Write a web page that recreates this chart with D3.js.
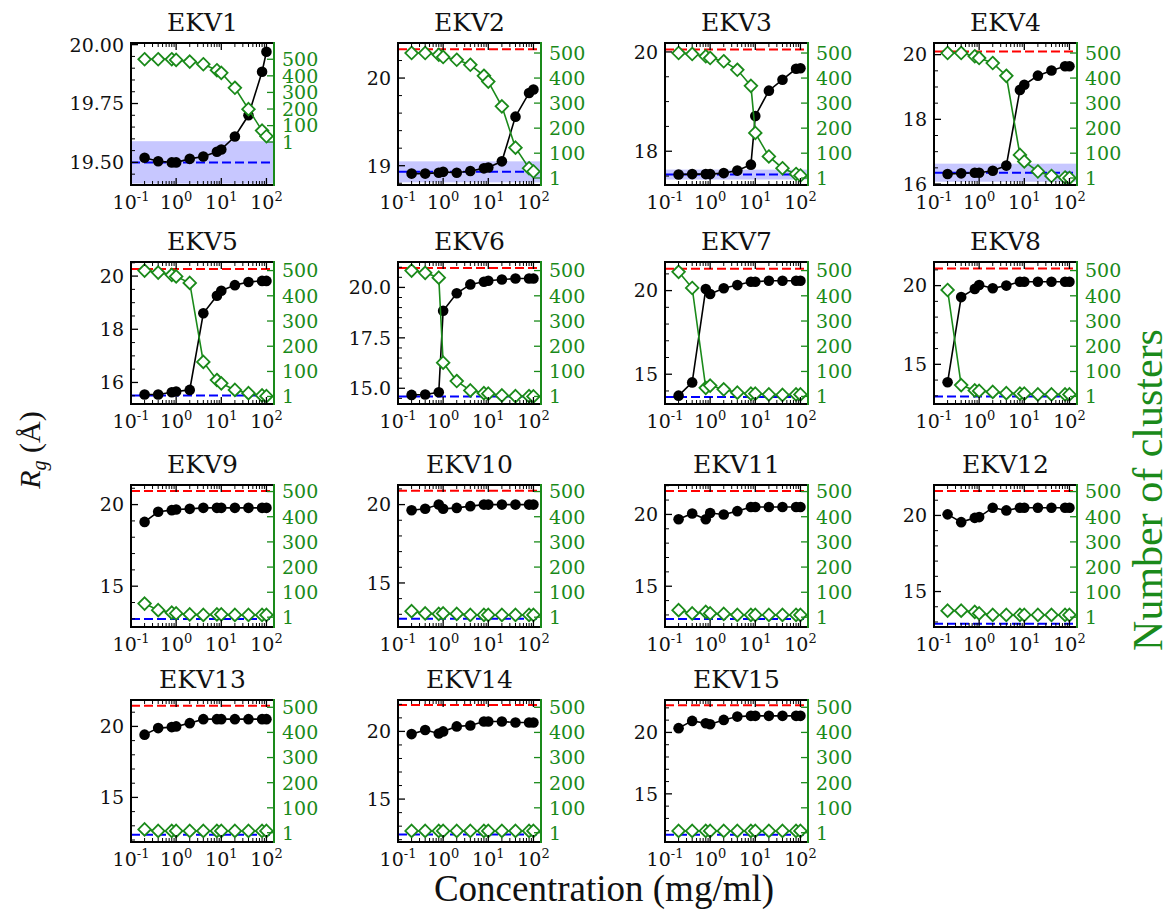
<!DOCTYPE html>
<html>
<head>
<meta charset="utf-8">
<script src="https://cdn.jsdelivr.net/npm/d3@7"></script>
<style>
  body { margin: 0; background: #fff; }
  text { font-family: "DejaVu Serif", serif; }
</style>
</head>
<body>
<svg id="fig" width="1173" height="911"></svg>
<script>
// Protein concentrations (mg/ml) sampled in every panel
const concentrations = [0.2, 0.4, 0.8, 1, 2, 4, 8, 10, 20, 40, 80, 100];

const proteinNames = ["EKV1", "EKV2", "EKV3", "EKV4", "EKV5", "EKV6", "EKV7", "EKV8",
                      "EKV9", "EKV10", "EKV11", "EKV12", "EKV13", "EKV14", "EKV15"];

// Radius of gyration (Å) per concentration
const rgValues = [
  [19.52, 19.505, 19.50, 19.50, 19.515, 19.525, 19.545, 19.555, 19.61, 19.70, 19.885, 19.97],
  [18.91, 18.91, 18.92, 18.93, 18.92, 18.94, 18.97, 18.98, 19.05, 19.56, 19.83, 19.87],
  [17.53, 17.54, 17.54, 17.54, 17.56, 17.61, 17.73, 18.71, 19.22, 19.44, 19.66, 19.67],
  [16.31, 16.33, 16.35, 16.35, 16.41, 16.57, 18.91, 19.07, 19.35, 19.51, 19.64, 19.64],
  [15.55, 15.55, 15.63, 15.66, 15.72, 18.60, 19.26, 19.45, 19.66, 19.78, 19.82, 19.82],
  [14.67, 14.69, 14.80, 18.84, 19.71, 20.15, 20.28, 20.33, 20.39, 20.44, 20.44, 20.44],
  [13.72, 14.51, 20.10, 19.80, 20.14, 20.33, 20.53, 20.53, 20.59, 20.59, 20.59, 20.59],
  [13.86, 19.27, 19.79, 20.04, 19.83, 20.00, 20.25, 20.25, 20.25, 20.25, 20.25, 20.25],
  [18.94, 19.56, 19.66, 19.70, 19.74, 19.80, 19.80, 19.80, 19.80, 19.80, 19.80, 19.80],
  [19.64, 19.73, 20.00, 19.73, 19.79, 19.90, 20.00, 20.00, 20.00, 20.00, 20.00, 20.00],
  [19.66, 20.07, 19.66, 20.10, 20.00, 20.23, 20.52, 20.52, 20.52, 20.52, 20.52, 20.52],
  [20.07, 19.56, 19.84, 19.89, 20.51, 20.33, 20.51, 20.51, 20.51, 20.51, 20.51, 20.51],
  [19.42, 19.88, 19.95, 20.00, 20.23, 20.51, 20.51, 20.51, 20.51, 20.51, 20.51, 20.51],
  [19.80, 20.10, 19.85, 20.00, 20.37, 20.44, 20.73, 20.73, 20.73, 20.66, 20.66, 20.66],
  [20.35, 20.94, 20.75, 20.67, 21.02, 21.29, 21.35, 21.35, 21.35, 21.35, 21.35, 21.35]
];

// Number of clusters per concentration
const clusterCounts = [
  [500, 500, 500, 496, 486, 470, 434, 418, 328, 199, 70, 36],
  [500, 500, 493, 484, 473, 453, 409, 386, 287, 122, 40, 27],
  [500, 496, 487, 480, 467, 433, 369, 181, 87, 40, 17, 11],
  [500, 500, 487, 480, 460, 409, 93, 67, 27, 9, 3, 1],
  [500, 492, 483, 477, 451, 138, 66, 53, 27, 14, 5, 2],
  [500, 491, 472, 135, 62, 25, 14, 12, 5, 2, 2, 1],
  [495, 431, 35, 44, 29, 16, 12, 12, 9, 7, 9, 9],
  [423, 46, 25, 23, 19, 14, 12, 12, 9, 9, 9, 9],
  [55, 29, 19, 16, 12, 10, 12, 12, 10, 10, 10, 10],
  [25, 16, 14, 16, 14, 10, 10, 10, 10, 10, 10, 10],
  [29, 16, 22, 16, 14, 10, 10, 10, 10, 10, 10, 10],
  [27, 27, 22, 16, 10, 10, 10, 10, 10, 10, 10, 10],
  [14, 8, 8, 8, 8, 8, 8, 8, 8, 8, 8, 8],
  [8, 8, 8, 8, 8, 8, 8, 8, 8, 8, 8, 8],
  [8, 8, 8, 8, 8, 8, 8, 8, 8, 8, 8, 8]
];

// Reference Rg levels (red upper dashed, blue lower dashed) and the band around the lower one
const rgUpperRef = [20.35, 20.33, 20.05, 20.10, 20.27, 20.96, 21.31, 21.09, 20.84, 20.88, 21.64, 21.60, 21.46, 21.95, 22.21];
const rgLowerRef = [19.50, 18.93, 17.53, 16.35, 15.51, 14.59, 13.64, 12.96, 12.99, 12.71, 12.72, 12.89, 12.37, 12.39, 11.67];
const rgLowerBand = [0.09, 0.12, 0.10, 0.28, 0, 0, 0, 0, 0, 0, 0, 0, 0, 0, 0];

// Axis ranges
const rgLimits = [
  [19.404, 20.007], [18.78, 20.40], [17.32, 20.18], [15.97, 20.36],
  [15.19, 20.53], [14.22, 21.26], [13.22, 21.71], [12.48, 21.50],
  [12.50, 21.20], [12.19, 21.25], [12.16, 22.05], [12.67, 22.00],
  [11.86, 21.86], [11.83, 22.32], [11.08, 22.64]
];
const clusterLimits = [
  [-258, 598], [-27, 540], [-27, 540], [-27, 540],
  [-29, 534], [-29, 534], [-29, 534], [-29, 534],
  [-38, 526], [-38, 526], [-38, 526], [-38, 526],
  [-36, 529], [-36, 529], [-36, 529]
];
const concLimits = [0.1, 147];

// Tick labels
const rgTicks = [
  [19.50, 19.75, 20.00], [19, 20], [18, 20], [16, 18, 20], [16, 18, 20],
  [15.0, 17.5, 20.0], [15, 20], [15, 20], [15, 20], [15, 20],
  [15, 20], [15, 20], [15, 20], [15, 20], [15, 20]
];
const rgTickDecimals = [2, 0, 0, 0, 0, 1, 0, 0, 0, 0, 0, 0, 0, 0, 0];
const clusterTicks = [1, 100, 200, 300, 400, 500];
const concTickExponents = [-1, 0, 1, 2];

// ---------------------------------------------------------------------------
const svg = d3.select("#fig");
const GREEN = "#1a8a1a";
const colLeft = [131, 398, 665, 934];
const rowTop = [43, 262, 485, 700];
const PW = 143, PH = 142;
const TICK_FONT = 19;

function minorStep(step) {
  const m = step / Math.pow(10, Math.floor(Math.log10(step) + 1e-9));
  const nd = [1, 2.5, 5, 10].some(v => Math.abs(m - v) < 1e-6) ? 5 : 4;
  return step / nd;
}

proteinNames.forEach((name, i) => {
  const row = Math.floor(i / 4), col = i % 4;
  const g = svg.append("g").attr("transform", `translate(${colLeft[col]},${rowTop[row]})`);

  const x = d3.scaleLog().domain(concLimits).range([0, PW]);
  const yL = d3.scaleLinear().domain(rgLimits[i]).range([PH, 0]);
  const yR = d3.scaleLinear().domain(clusterLimits[i]).range([PH, 0]);

  const clipId = "clip" + i;
  g.append("clipPath").attr("id", clipId)
    .append("rect").attr("width", PW).attr("height", PH);
  const plot = g.append("g").attr("clip-path", `url(#${clipId})`);

  // shaded band around the lower reference
  if (rgLowerBand[i] > 0) {
    const top = yL(rgLowerRef[i] + rgLowerBand[i]);
    const bot = yL(rgLowerRef[i] - rgLowerBand[i]);
    plot.append("rect").attr("x", 0).attr("width", PW)
      .attr("y", top).attr("height", bot - top)
      .attr("fill", "#0000ff").attr("fill-opacity", 0.22);
  }
  // reference lines
  [[rgUpperRef[i], "#ff0000"], [rgLowerRef[i], "#0000ff"]].forEach(([v, c]) => {
    plot.append("line").attr("x1", 0).attr("x2", PW)
      .attr("y1", yL(v)).attr("y2", yL(v))
      .attr("stroke", c).attr("stroke-width", 2)
      .attr("stroke-dasharray", "9,4");
  });

  // Rg series
  const rgLine = d3.line().x((d, j) => x(concentrations[j])).y(d => yL(d));
  plot.append("path").attr("d", rgLine(rgValues[i]))
    .attr("fill", "none").attr("stroke", "#000").attr("stroke-width", 1.6);
  plot.selectAll("circle.rg").data(rgValues[i]).enter().append("circle")
    .attr("class", "rg")
    .attr("cx", (d, j) => x(concentrations[j])).attr("cy", d => yL(d))
    .attr("r", 5.3).attr("fill", "#000");

  // cluster-count series (twin axis, drawn on top)
  const nLine = d3.line().x((d, j) => x(concentrations[j])).y(d => yR(d));
  plot.append("path").attr("d", nLine(clusterCounts[i]))
    .attr("fill", "none").attr("stroke", GREEN).attr("stroke-width", 1.6);
  const r = 6.3;
  plot.selectAll("path.n").data(clusterCounts[i]).enter().append("path")
    .attr("class", "n")
    .attr("transform", (d, j) => `translate(${x(concentrations[j])},${yR(d)})`)
    .attr("d", `M0,${-r}L${r},0L0,${r}L${-r},0Z`)
    .attr("fill", "#fff").attr("stroke", GREEN).attr("stroke-width", 1.8);

  // x ticks (log, inward on bottom and top)
  const majors = concTickExponents.map(e => Math.pow(10, e));
  const minors = [];
  for (let e = -2; e <= 2; e++) for (let k = 2; k <= 9; k++) {
    const v = k * Math.pow(10, e);
    if (v > concLimits[0] && v < concLimits[1]) minors.push(v);
  }
  const tickG = g.append("g");
  majors.forEach(v => {
    const px = x(v);
    if (px < -0.5 || px > PW + 0.5) return;
    tickG.append("line").attr("x1", px).attr("x2", px).attr("y1", PH).attr("y2", PH - 7).attr("stroke", "#000").attr("stroke-width", 1.3);
    tickG.append("line").attr("x1", px).attr("x2", px).attr("y1", 0).attr("y2", 7).attr("stroke", "#000").attr("stroke-width", 1.3);
  });
  minors.forEach(v => {
    const px = x(v);
    tickG.append("line").attr("x1", px).attr("x2", px).attr("y1", PH).attr("y2", PH - 4).attr("stroke", "#000").attr("stroke-width", 1);
    tickG.append("line").attr("x1", px).attr("x2", px).attr("y1", 0).attr("y2", 4).attr("stroke", "#000").attr("stroke-width", 1);
  });
  concTickExponents.forEach(e => {
    const t = g.append("text").attr("x", x(Math.pow(10, e))).attr("y", PH + 24)
      .attr("text-anchor", "middle").attr("font-size", TICK_FONT).attr("fill", "#111");
    t.append("tspan").text("10");
    t.append("tspan").attr("dy", -8).attr("font-size", 13).text(e < 0 ? "-" + (-e) : String(e));
  });

  // left y ticks
  const tk = rgTicks[i];
  const step = tk[1] - tk[0];
  const ms = minorStep(step);
  const [lo, hi] = rgLimits[i];
  for (let v = Math.ceil(lo / ms - 1e-6) * ms; v <= hi + 1e-9; v += ms) {
    const isMajor = tk.some(t => Math.abs(t - v) < 1e-6);
    const py = yL(v);
    tickG.append("line").attr("x1", 0).attr("x2", isMajor ? 7 : 4)
      .attr("y1", py).attr("y2", py).attr("stroke", "#000").attr("stroke-width", isMajor ? 1.3 : 1);
  }
  tk.forEach(v => {
    g.append("text").attr("x", -7).attr("y", yL(v)).attr("dy", "0.36em")
      .attr("text-anchor", "end").attr("font-size", TICK_FONT).attr("fill", "#111")
      .text(v.toFixed(rgTickDecimals[i]));
  });

  // right y ticks (green)
  clusterTicks.forEach(v => {
    const py = yR(v);
    tickG.append("line").attr("x1", PW).attr("x2", PW - 7)
      .attr("y1", py).attr("y2", py).attr("stroke", GREEN).attr("stroke-width", 1.3);
    g.append("text").attr("x", PW + 8).attr("y", py).attr("dy", "0.36em")
      .attr("font-size", TICK_FONT).attr("fill", GREEN).text(v);
  });

  // frame
  g.append("path").attr("d", `M${PW},0H0V${PH}H${PW}`)
    .attr("fill", "none").attr("stroke", "#000").attr("stroke-width", 2);
  g.append("line").attr("x1", PW).attr("x2", PW).attr("y1", -1).attr("y2", PH + 1)
    .attr("stroke", GREEN).attr("stroke-width", 2);

  // panel title
  g.append("text").attr("x", PW / 2).attr("y", -12).attr("text-anchor", "middle")
    .attr("font-size", 25).attr("fill", "#111").text(name);
});

// shared axis labels
const lab = svg.append("g");
lab.append("text").attr("x", 604).attr("y", 901).attr("text-anchor", "middle")
  .attr("font-size", 37).attr("fill", "#111")
  .style("font-family", "'Liberation Serif', serif").text("Concentration (mg/ml)");

const rg = lab.append("text").attr("transform", "translate(40,450) rotate(-90)")
  .attr("text-anchor", "middle").attr("font-size", 30).attr("fill", "#111")
  .style("font-family", "'Liberation Serif', serif");
rg.append("tspan").attr("font-style", "italic").text("R");
rg.append("tspan").attr("dy", 6).attr("font-size", 20).attr("font-style", "italic").text("g");
rg.append("tspan").attr("dy", -6).text(" (Å)");

lab.append("text").attr("transform", "translate(1162,490) rotate(-90)")
  .attr("text-anchor", "middle").attr("font-size", 42).attr("fill", GREEN)
  .style("font-family", "'Liberation Serif', serif").text("Number of clusters");
</script>
</body>
</html>
